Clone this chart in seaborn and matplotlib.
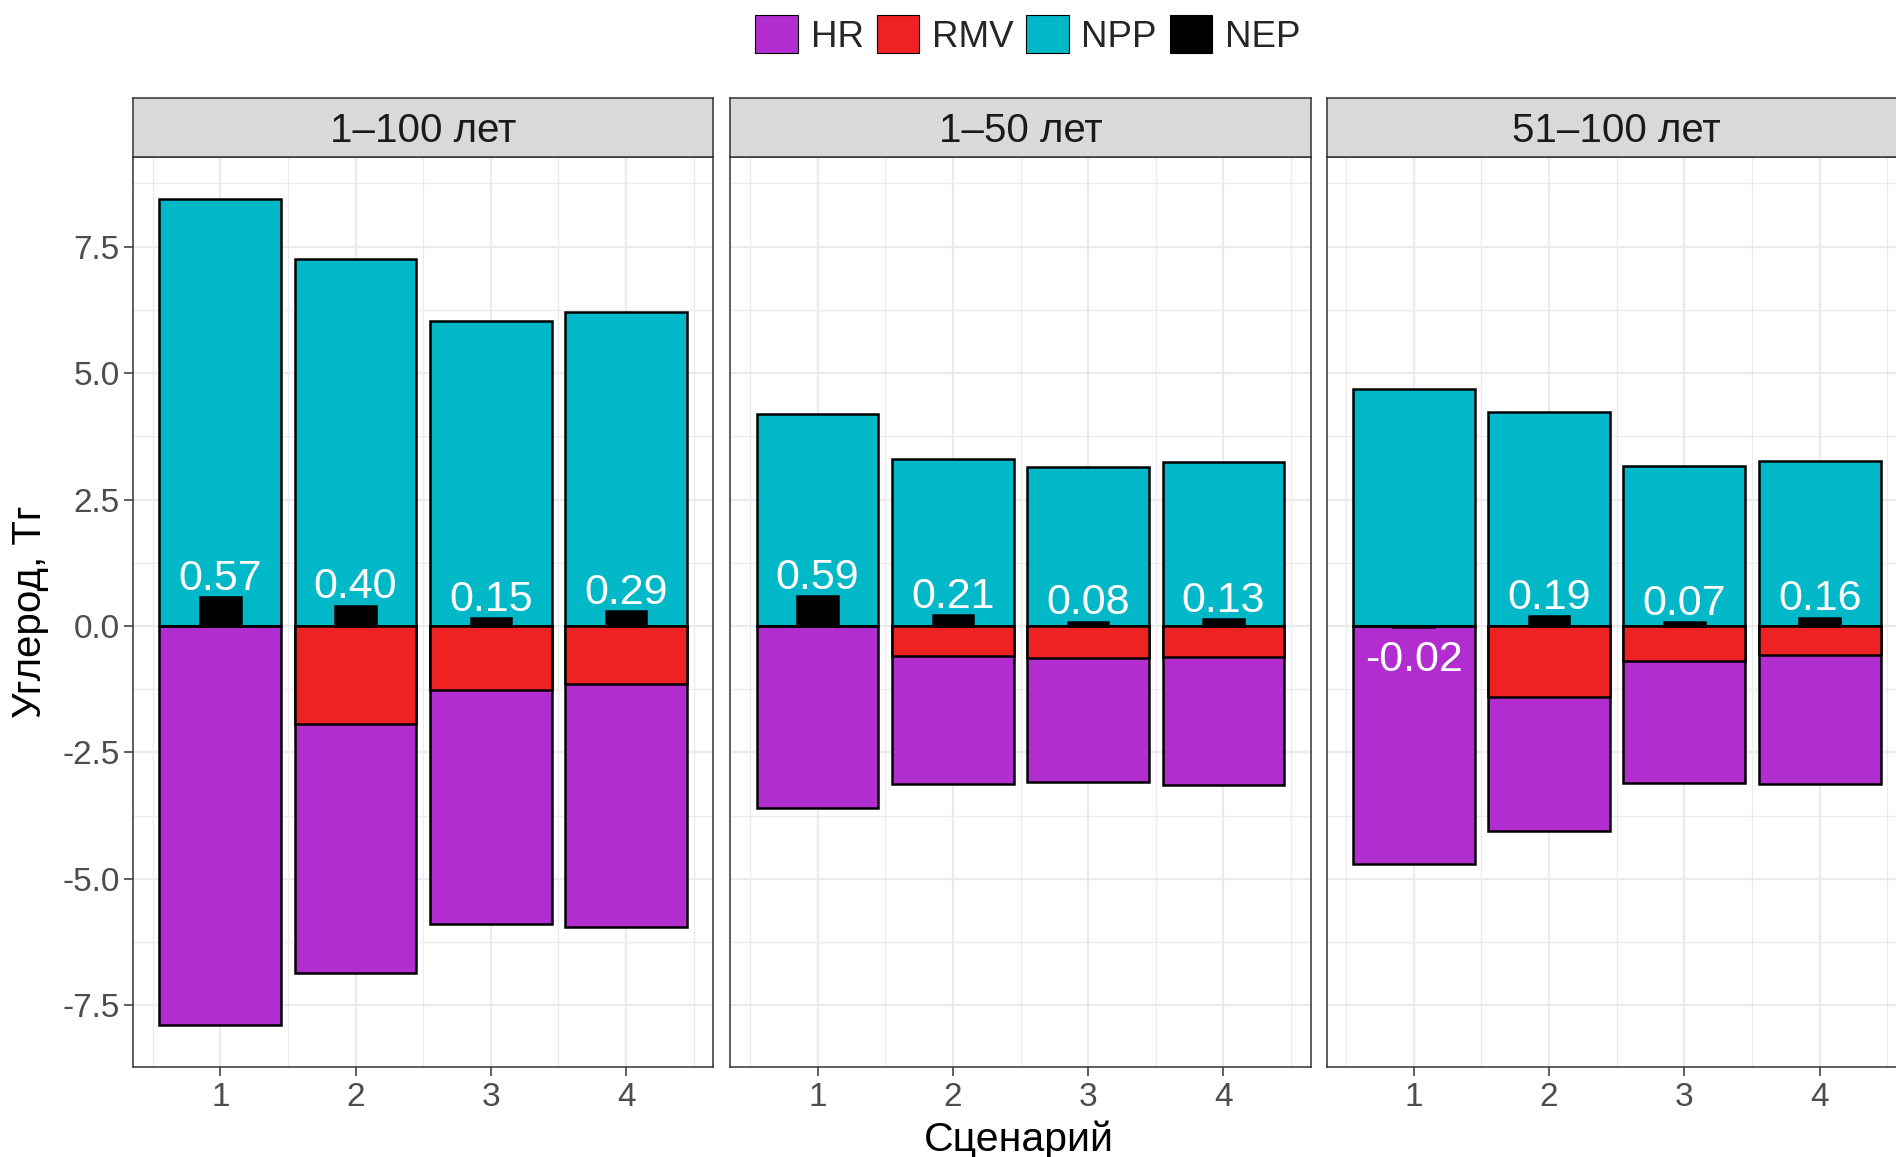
import numpy as np
import pandas as pd
import matplotlib
matplotlib.use("Agg")
import matplotlib.pyplot as plt
import seaborn as sns
from matplotlib.patches import Patch
from matplotlib.ticker import FixedLocator, MultipleLocator

# ---------------- data ----------------
periods = ["1–100 лет", "1–50 лет", "51–100 лет"]
scenarios = [1, 2, 3, 4]
series_names = ["HR", "RMV", "NPP", "NEP"]
y_ticks = [-7.5, -5.0, -2.5, 0.0, 2.5, 5.0, 7.5]
y_tick_labels = ["-7.5", "-5.0", "-2.5", "0.0", "2.5", "5.0", "7.5"]

npp_p1 = [8.45, 7.25, 6.02, 6.21]
npp_p2 = [4.19, 3.31, 3.14, 3.25]
npp_p3 = [4.68, 4.23, 3.17, 3.27]

rmv_p1 = [0.00, 1.93, 1.26, 1.14]
rmv_p2 = [0.00, 0.59, 0.63, 0.62]
rmv_p3 = [0.00, 1.41, 0.70, 0.57]

hr_p1 = [7.89, 4.93, 4.64, 4.80]
hr_p2 = [3.59, 2.53, 2.45, 2.52]
hr_p3 = [4.71, 2.64, 2.40, 2.55]

nep_p1 = [0.57, 0.40, 0.15, 0.29]
nep_p2 = [0.59, 0.21, 0.08, 0.13]
nep_p3 = [-0.02, 0.19, 0.07, 0.16]

npp_all = [npp_p1, npp_p2, npp_p3]
rmv_all = [rmv_p1, rmv_p2, rmv_p3]
hr_all = [hr_p1, hr_p2, hr_p3]
nep_all = [nep_p1, nep_p2, nep_p3]

# ---------------- style ----------------
C_HR = "#B12DD0"
C_RMV = "#EE2222"
C_NPP = "#00B8C8"
C_NEP = "#000000"
colors = [C_HR, C_RMV, C_NPP, C_NEP]

sns.set_theme(style="white")
plt.rcParams["font.family"] = ["Liberation Sans", "DejaVu Sans"]

W, H = 1896, 1157
fig = plt.figure(figsize=(W / 100, H / 100), dpi=100)
fig.patch.set_facecolor("white")

panel_lefts = [133.0, 730.3, 1326.5]
panel_w = 580.4
panel_bottom = 90.5
panel_h = 909.3
strip_h = 59.0

edge_lw = 1.8
all_min = min(float(np.min(-(np.array(h) + np.array(r)))) for h, r in zip(hr_all, rmv_all))
all_max = max(max(n) for n in npp_all)
rng = all_max - all_min
ylim = (all_min - 0.05 * rng, all_max + 0.05 * rng)

for i, period in enumerate(periods):
    left = panel_lefts[i]
    ax = fig.add_axes([left / W, panel_bottom / H, panel_w / W, panel_h / H])
    ax.set_facecolor("white")
    ax.set_axisbelow(True)

    npp = np.array(npp_all[i])
    rmv = np.array(rmv_all[i])
    hr = np.array(hr_all[i])
    nep = np.array(nep_all[i])

    df = pd.DataFrame({
        "scen": scenarios,
        "NPP": npp,
        "HRcum": -(hr + rmv),
        "RMVneg": -rmv,
        "NEP": nep,
    })

    common = dict(data=df, x="scen", errorbar=None, native_scale=True,
                  edgecolor="black", linewidth=edge_lw, ax=ax)
    sns.barplot(y="NPP", color=C_NPP, saturation=1, width=0.9, **common)
    sns.barplot(y="HRcum", color=C_HR, saturation=1, width=0.9, **common)
    sns.barplot(y="RMVneg", color=C_RMV, saturation=1, width=0.9, **common)
    sns.barplot(y="NEP", color=C_NEP, saturation=1, width=0.3, **common)

    for x, v in zip(scenarios, nep):
        yy = v + 0.15 if v >= 0 else v - 0.86
        ax.text(x, yy, f"{v:.2f}", color="white", ha="center", va="baseline",
                fontsize=31, zorder=10)

    ax.set_xlim(0.355, 4.645)
    ax.set_ylim(*ylim)
    ax.set_xlabel("")
    ax.set_ylabel("")

    ax.xaxis.set_major_locator(FixedLocator(scenarios))
    ax.xaxis.set_minor_locator(MultipleLocator(0.5))
    ax.yaxis.set_major_locator(FixedLocator(y_ticks))
    ax.yaxis.set_minor_locator(MultipleLocator(1.25))
    ax.set_xticklabels([str(s) for s in scenarios])
    ax.grid(which="major", color="#EBEBEB", linewidth=1.6)
    ax.grid(which="minor", color="#EBEBEB", linewidth=0.9)

    ax.tick_params(axis="x", which="major", bottom=True, length=6.5, width=1.1,
                   color="#333333", labelsize=24, labelcolor="#4D4D4D", pad=5)
    ax.tick_params(axis="x", which="minor", bottom=False)
    if i == 0:
        ax.set_yticklabels(y_tick_labels)
        ax.tick_params(axis="y", which="major", left=True, length=6.5, width=1.1,
                       color="#333333", labelsize=24, labelcolor="#4D4D4D", pad=3)
    else:
        ax.tick_params(axis="y", which="major", left=False, labelleft=False)
    ax.tick_params(axis="y", which="minor", left=False)

    for s in ax.spines.values():
        s.set_visible(True)
        s.set_color("#333333")
        s.set_linewidth(1.1)

    # facet strip
    sax = fig.add_axes([left / W, (panel_bottom + panel_h) / H, panel_w / W, strip_h / H])
    sax.set_facecolor("#D9D9D9")
    sax.set_xticks([])
    sax.set_yticks([])
    for s in sax.spines.values():
        s.set_visible(True)
        s.set_color("#333333")
        s.set_linewidth(1.1)
    sax.text(0.5, 0.45, period, ha="center", va="center", fontsize=29,
             color="#1A1A1A", transform=sax.transAxes)

# axis titles
fig.text(30 / W, 1 - 612 / H, "Углерод, Тг", rotation=90, ha="center",
         va="center", fontsize=29, color="black")
fig.text(1019 / W, 1 - 1140 / H, "Сценарий", ha="center", va="center",
         fontsize=29.5, color="black")

# legend
handles = [Patch(facecolor=c, edgecolor="black", linewidth=0.8, label=n)
           for n, c in zip(series_names, colors)]
fig.legend(handles=handles, loc="center", bbox_to_anchor=(1028 / W, 1 - 35 / H),
           ncol=4, frameon=False, fontsize=26.5, handlelength=1.15,
           handleheight=1.2, handletextpad=0.35, columnspacing=0.35,
           borderaxespad=0, borderpad=0)

fig.savefig("out.png", dpi=100)
